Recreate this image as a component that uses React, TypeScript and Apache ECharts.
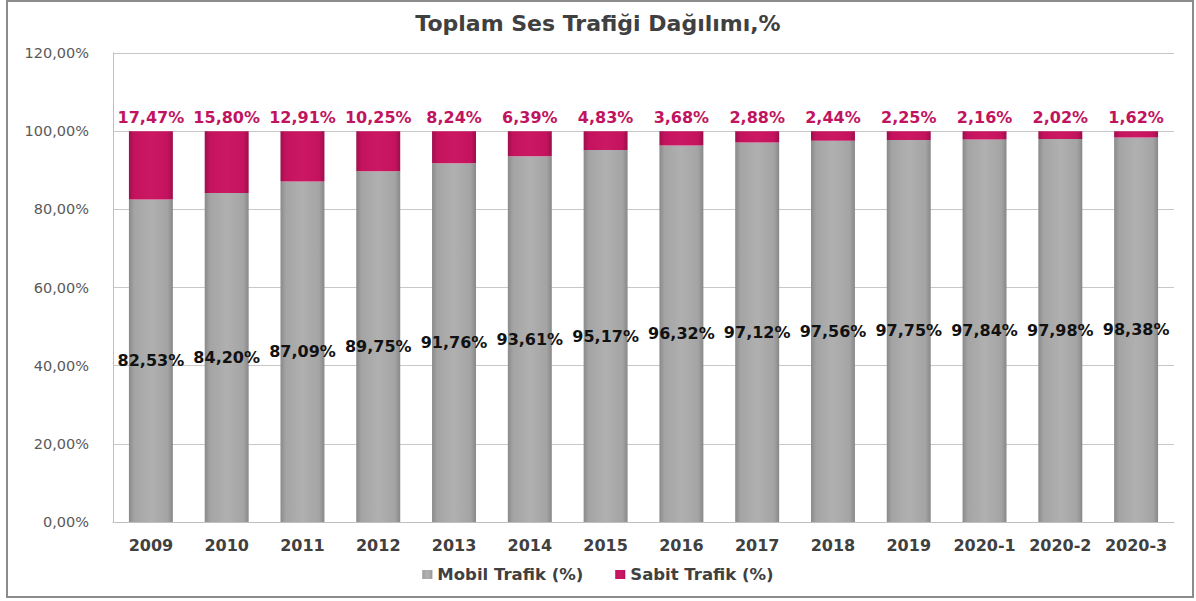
import React, { useEffect, useRef } from "react";
import * as echarts from "echarts";

const categories = ["2009", "2010", "2011", "2012", "2013", "2014", "2015", "2016", "2017", "2018", "2019", "2020-1", "2020-2", "2020-3"];
const mobil = [82.53, 84.2, 87.09, 89.75, 91.76, 93.61, 95.17, 96.32, 97.12, 97.56, 97.75, 97.84, 97.98, 98.38];
const sabit = [17.47, 15.8, 12.91, 10.25, 8.24, 6.39, 4.83, 3.68, 2.88, 2.44, 2.25, 2.16, 2.02, 1.62];
const yTicks = { min: 0, max: 120, interval: 20 };

const fmt = (v: number) => v.toFixed(2).replace(".", ",") + "%";
const FONT = "'DejaVu Sans', Verdana, sans-serif";

const greyGrad = new echarts.graphic.LinearGradient(0, 0, 1, 0, [
  { offset: 0, color: "#8a8a8a" },
  { offset: 0.12, color: "#a4a4a4" },
  { offset: 0.5, color: "#b0b0b0" },
  { offset: 0.88, color: "#a4a4a4" },
  { offset: 1, color: "#888888" },
]);
const pinkGrad = new echarts.graphic.LinearGradient(0, 0, 1, 0, [
  { offset: 0, color: "#9e0f4c" },
  { offset: 0.12, color: "#c4135e" },
  { offset: 0.5, color: "#cc1864" },
  { offset: 0.88, color: "#c4135e" },
  { offset: 1, color: "#9c0e4a" },
]);

export default function App() {
  const ref = useRef<HTMLDivElement>(null);
  useEffect(() => {
    document.body.style.margin = "0";
    const chart = echarts.init(ref.current!, null, { renderer: "svg" });
    chart.setOption({
      animation: false,
      backgroundColor: "#ffffff",
      title: {
        text: "Toplam Ses Trafiği Dağılımı,%",
        left: "center",
        top: 7,
        textStyle: { fontFamily: FONT, fontSize: 22, fontWeight: "bold", color: "#404040" },
      },
      graphic: [
        {
          type: "rect",
          shape: { x: 7, y: 1, width: 1186, height: 596 },
          style: { fill: "none", stroke: "#8c8c8c", lineWidth: 2 },
          silent: true,
        },
      ],
      legend: {
        bottom: 13,
        left: "center",
        itemWidth: 10,
        itemHeight: 9,
        itemGap: 32,
        icon: "rect",
        textStyle: { fontFamily: FONT, fontSize: 16.5, fontWeight: "bold", color: "#404040" },
        data: ["Mobil Trafik (%)", "Sabit Trafik (%)"],
      },
      grid: { left: 113, right: 22, top: 53, bottom: 79 },
      xAxis: {
        type: "category",
        data: categories,
        axisLine: { lineStyle: { color: "#bfbfbf" } },
        axisTick: { show: false },
        axisLabel: { interval: 0, fontFamily: FONT, fontSize: 16, fontWeight: "bold", color: "#404040", margin: 15 },
      },
      yAxis: {
        type: "value",
        min: yTicks.min,
        max: yTicks.max,
        interval: yTicks.interval,
        axisLine: { show: true, lineStyle: { color: "#bfbfbf" } },
        axisTick: { show: false },
        splitLine: { lineStyle: { color: "#c8c8c8" } },
        axisLabel: { fontFamily: FONT, fontSize: 14.5, color: "#595959", margin: 24, formatter: (v: number) => fmt(v) },
      },
      series: [
        {
          name: "Mobil Trafik (%)",
          type: "bar",
          stack: "total",
          barWidth: "58%",
          data: mobil,
          itemStyle: { color: greyGrad },
          label: {
            show: true,
            position: "inside",
            formatter: (p: any) => fmt(p.value),
            fontFamily: FONT,
            fontSize: 16,
            fontWeight: "bold",
            color: "#111111",
          },
        },
        {
          name: "Sabit Trafik (%)",
          type: "bar",
          stack: "total",
          barWidth: "58%",
          data: sabit,
          itemStyle: { color: pinkGrad },
          label: {
            show: true,
            position: "top",
            distance: 6,
            formatter: (p: any) => fmt(p.value),
            fontFamily: FONT,
            fontSize: 16,
            fontWeight: "bold",
            color: "#c0145f",
          },
        },
      ],
    });
    return () => chart.dispose();
  }, []);
  return <div ref={ref} style={{ width: 1196, height: 601 }} />;
}
